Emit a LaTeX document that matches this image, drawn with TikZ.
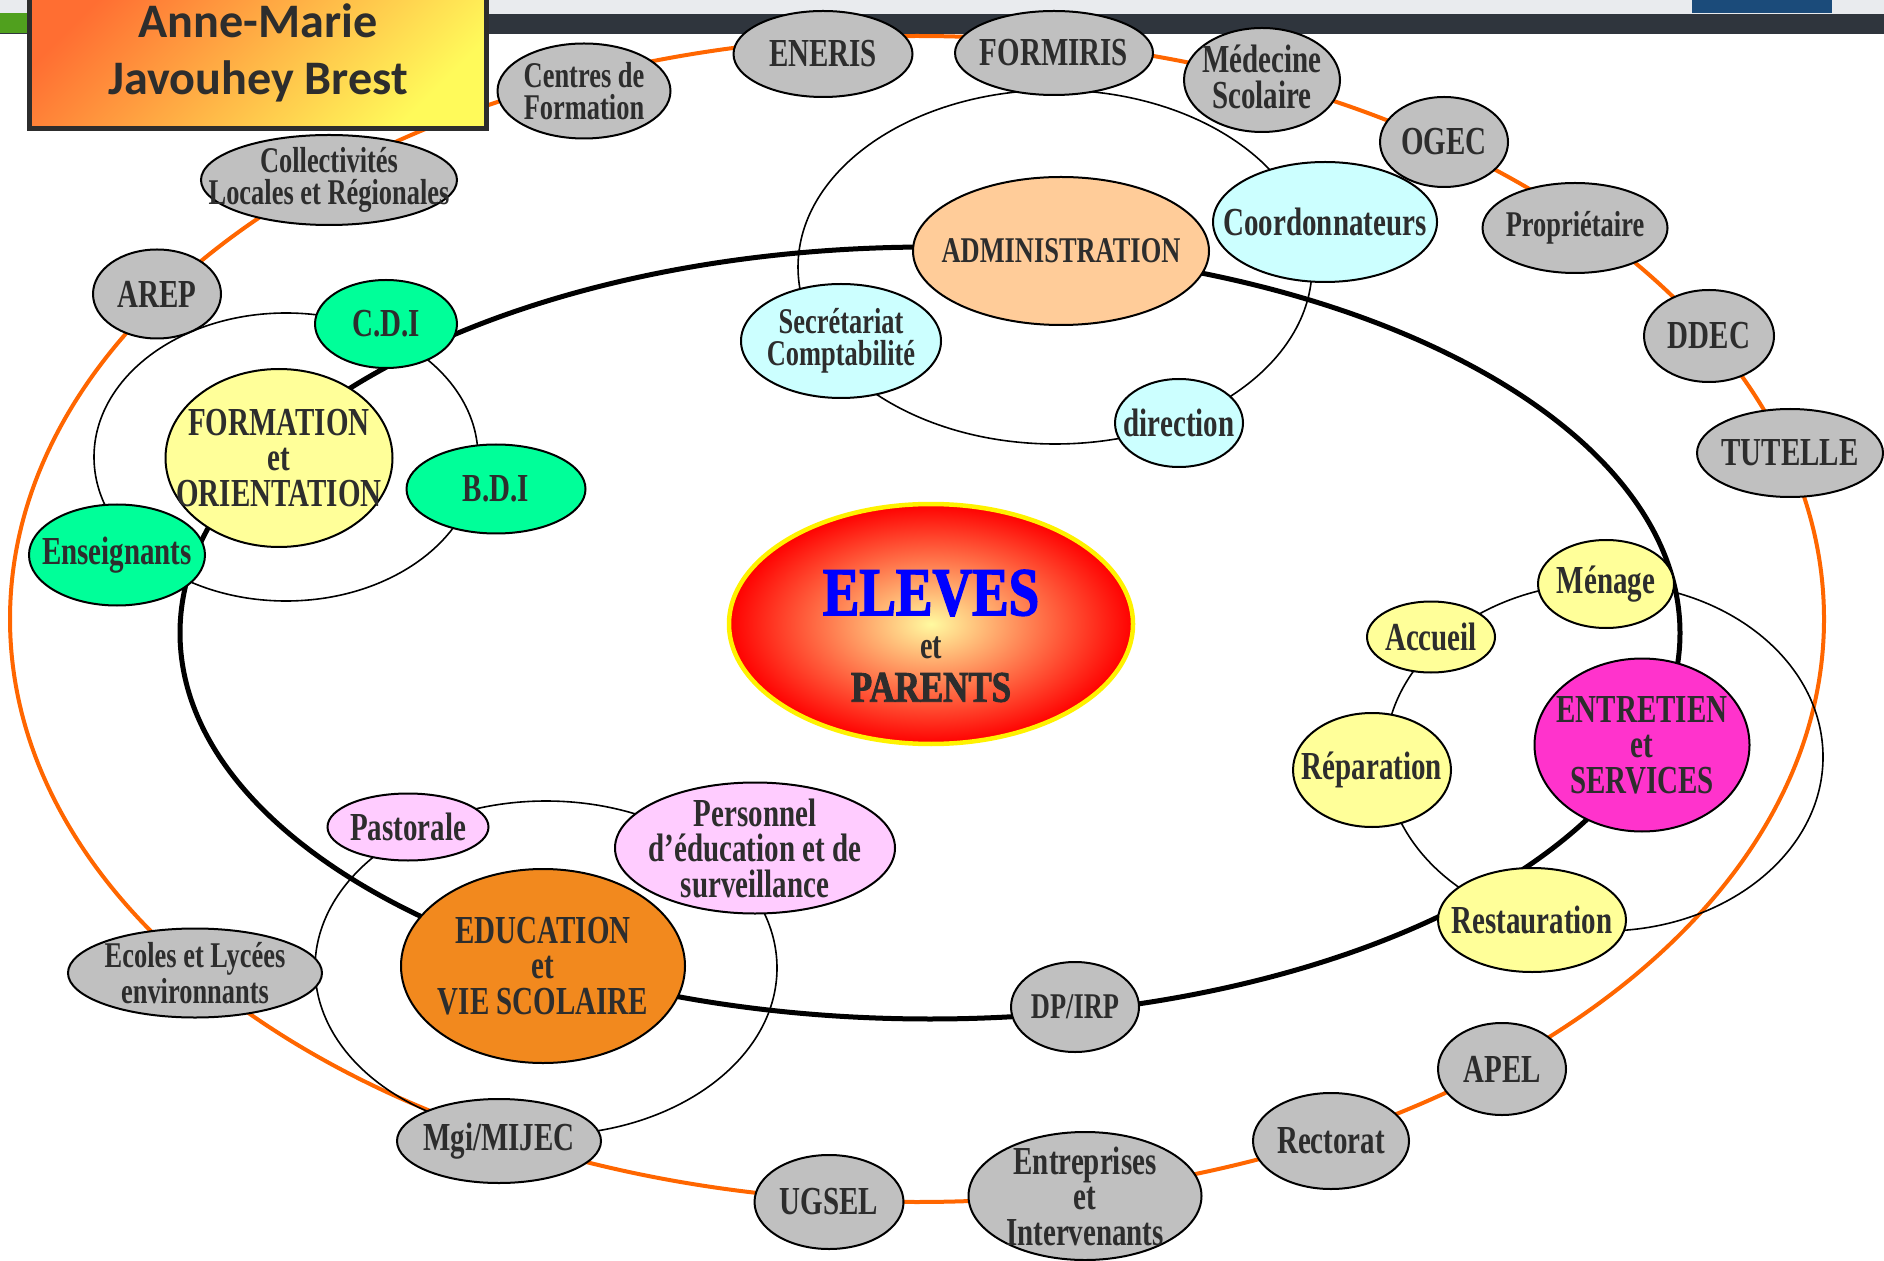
\documentclass[tikz,border=0pt]{standalone}
\usepackage{fontspec}
\setmainfont{Liberation Serif}[FakeStretch=0.73]
\newfontfamily\titlefont{Carlito}
\newfontfamily\stencilfont{Liberation Serif}[FakeStretch=0.8, FakeBold=2]
\usetikzlibrary{shapes.geometric}

\newcommand\bigtxt{\fontsize{11.3}{10.1}\selectfont\bfseries}
\newcommand\smltxt{\fontsize{10.3}{9.2}\selectfont\bfseries}

\tikzset{
  bubble/.style={ellipse, draw=black, line width=0.2mm, inner sep=0pt},
  wh/.style 2 args={minimum width=#1mm, minimum height=#2mm},
  txt/.style={align=center, text=txtgray, font=\bigtxt, inner sep=0pt},
  stxt/.style={txt, font=\smltxt},
  ring/.style={line width=0.16mm},
  graybub/.style={bubble, fill=bubgray},
  greenbub/.style={bubble, fill=springgreen},
  yellowbub/.style={bubble, fill=paleyellow},
  cyanbub/.style={bubble, fill=palecyan},
  pinkbub/.style={bubble, fill=palepink},
}

\begin{document}
\begin{tikzpicture}[x=0.1mm, y=-0.1mm]
        \definecolor{txtgray}{RGB}{45,45,45}
        \definecolor{bubgray}{RGB}{192,192,192}
        \definecolor{springgreen}{RGB}{0,255,153}
        \definecolor{paleyellow}{RGB}{255,255,153}
        \definecolor{palecyan}{RGB}{204,255,255}
        \definecolor{palepink}{RGB}{255,204,255}
        \definecolor{peach}{RGB}{255,204,153}
        \definecolor{hotpink}{RGB}{255,51,204}
        \definecolor{eduorange}{RGB}{242,137,30}
        \definecolor{ringorange}{RGB}{255,102,0}
        \definecolor{elevesblue}{RGB}{0,0,255}
        \definecolor{elevesin}{RGB}{255,250,160}
        \definecolor{bandgray}{RGB}{47,53,61}
        \definecolor{stripgray}{RGB}{233,235,238}
        \definecolor{bandgreen}{RGB}{80,160,30}
        \definecolor{slideblue}{RGB}{27,75,122}
        \definecolor{titletop}{RGB}{255,110,50}
        \definecolor{titlebot}{RGB}{255,250,90}

        \useasboundingbox (0,0) rectangle (1884,1261);

        % slide header strips
        \fill[stripgray] (0,0) rectangle (1884,14);
        \fill[bandgray] (0,14) rectangle (1884,34);
        \fill[bandgreen] (0,13) rectangle (40,33);
        \fill[slideblue] (1692,0) rectangle (1832,13);

        % rings first, bubbles on top of them
        \draw[ringorange, line width=0.4mm] (917,619) ellipse [x radius=90.7mm, y radius=58.3mm];
        \draw[black, line width=0.5mm] (930,633) ellipse [x radius=75.0mm, y radius=38.6mm];
        \draw[ring] (286,457) ellipse [x radius=19.2mm, y radius=14.4mm];
        \draw[ring] (1055,267) ellipse [x radius=25.7mm, y radius=17.7mm];
        \draw[ring] (1604,757) ellipse [x radius=21.9mm, y radius=17.4mm];
        \draw[ring] (546,968) ellipse [x radius=23.1mm, y radius=16.7mm];

        % title box
        \node[draw=txtgray, line width=0.5mm, top color=titletop, bottom color=titlebot, shading angle=45,
              minimum width=45.7mm, minimum height=15.1mm, inner sep=0pt, align=center, text=txtgray,
              font=\titlefont\fontsize{13.7}{16.4}\selectfont\bfseries] (title) at (258,53) {Anne-Marie\\Javouhey Brest};

        % outer partners (gray)
        \node[graybub, wh={17.9}{8.6}, label={[txt]center:ENERIS}] (eneris) at (823,54) {};
        \node[graybub, wh={19.8}{8.4}, label={[txt]center:FORMIRIS}] (formiris) at (1054,53) {};
        \node[graybub, wh={15.6}{10.4}, label={[txt, yshift=0.3mm]center:{Médecine\\Scolaire}}] (medecine) at (1262,80) {};
        \node[graybub, wh={12.8}{9.0}, label={[txt]center:OGEC}] (ogec) at (1444,142) {};
        \node[graybub, wh={18.5}{9.0}, label={[stxt]center:Propriétaire}] (proprio) at (1575,228) {};
        \node[graybub, wh={13.0}{9.2}, label={[txt]center:DDEC}] (ddec) at (1709,336) {};
        \node[graybub, wh={18.6}{8.8}, label={[txt]center:TUTELLE}] (tutelle) at (1790,453) {};
        \node[graybub, wh={12.8}{9.2}, label={[txt]center:APEL}] (apel) at (1502,1069) {};
        \node[graybub, wh={15.6}{9.6}, label={[txt]center:Rectorat}] (rectorat) at (1331,1141) {};
        \node[graybub, wh={23.3}{12.8}, label={[txt]center:{Entreprises\\et\\Intervenants}}] (entreprises) at (1085,1196) {};
        \node[graybub, wh={14.9}{9.4}, label={[txt]center:UGSEL}] (ugsel) at (829,1202) {};
        \node[graybub, wh={20.4}{8.4}, label={[txt]center:Mgi/MIJEC}] (mgi) at (499,1141) {};
        \node[graybub, wh={25.4}{8.9}, label={[stxt]center:{Ecoles et Lycées\\environnants}}] (ecoles) at (195,973) {};
        \node[graybub, wh={12.8}{8.9}, label={[txt]center:AREP}] (arep) at (157,294) {};
        \node[graybub, wh={25.6}{9.0}, label={[stxt]center:{Collectivités\\Locales et Régionales}}] (collectivites) at (329,180) {};
        \node[graybub, wh={17.3}{9.5}, label={[stxt]center:{Centres de\\Formation}}] (centres) at (584,91) {};
        \node[graybub, wh={12.8}{9.0}, label={[stxt]center:DP/IRP}] (dpirp) at (1075,1007) {};

        % formation et orientation
        \node[yellowbub, wh={22.7}{17.8}, label={[txt]center:{FORMATION\\et\\ORIENTATION}}] (formation) at (279,458) {};
        \node[greenbub, wh={14.2}{8.8}, label={[txt]center:C.D.I}] (cdi) at (386,324) {};
        \node[greenbub, wh={17.9}{8.9}, label={[txt]center:B.D.I}] (bdi) at (496,489) {};
        \node[greenbub, wh={17.6}{10.1}, label={[txt]center:Enseignants}] (enseignants) at (117,555) {};

        % administration
        \node[bubble, fill=peach, wh={29.6}{14.8}, label={[stxt]center:ADMINISTRATION}] (admin) at (1061,251) {};
        \node[cyanbub, wh={22.4}{12.0}, label={[txt]center:Coordonnateurs}] (coord) at (1325,222) {};
        \node[cyanbub, wh={20.0}{11.4}, label={[stxt]center:{Secrétariat\\Comptabilité}}] (secret) at (841,341) {};
        \node[cyanbub, wh={12.8}{8.8}, label={[txt]center:direction}] (direction) at (1179,423) {};

        % entretien et services
        \node[bubble, fill=hotpink, wh={21.5}{17.3}, label={[txt]center:{ENTRETIEN\\et\\SERVICES}}] (entretien) at (1642,745) {};
        \node[yellowbub, wh={13.6}{8.8}, label={[txt]center:Ménage}] (menage) at (1606,584) {};
        \node[yellowbub, wh={12.8}{7.1}, label={[txt]center:Accueil}] (accueil) at (1431,637) {};
        \node[yellowbub, wh={15.8}{11.4}, label={[txt]center:Réparation}] (reparation) at (1372,770) {};
        \node[yellowbub, wh={18.8}{10.4}, label={[txt]center:Restauration}] (restauration) at (1532,920) {};

        % education et vie scolaire
        \node[bubble, fill=eduorange, wh={28.4}{19.4}, label={[txt]center:{EDUCATION\\et\\VIE SCOLAIRE}}] (education) at (543,966) {};
        \node[pinkbub, wh={16.1}{6.7}, label={[txt]center:Pastorale}] (pastorale) at (408,827) {};
        \node[pinkbub, wh={28.0}{13.1}, label={[txt]center:{Personnel\\d’éducation et de\\surveillance}}] (personnel) at (755,848) {};

        % centre
        \node[bubble, draw=yellow, line width=0.45mm, inner color=elevesin, outer color=red, wh={40.4}{24.0},
              label={[inner sep=0pt, align=center, yshift=-1.2mm, text=txtgray, font=\fontsize{11}{12.3}\selectfont\bfseries]center:{{\stencilfont\fontsize{19.5}{12.3}\selectfont\color{elevesblue}ELEVES}\\et\\{\stencilfont\fontsize{12.4}{12.3}\selectfont PARENTS}}}] (eleves) at (931,624) {};
\end{tikzpicture}
\end{document}
